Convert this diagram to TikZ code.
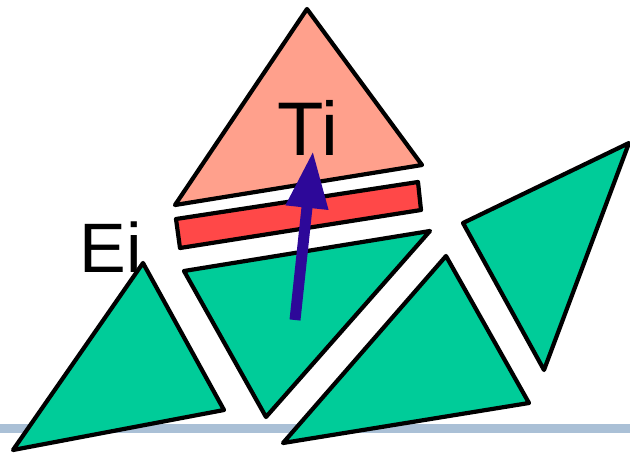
\documentclass[tikz,border=0pt]{standalone}
\usepackage{fontspec}
\setmainfont{Liberation Sans}
\usepackage{tikz}
\usetikzlibrary{arrows.meta, positioning}

\definecolor{meshgreen}{HTML}{00CC99}
\definecolor{salmontri}{HTML}{FFA08C}
\definecolor{redstrip}{HTML}{FF4848}
\definecolor{arrowblue}{HTML}{2D0899}
\definecolor{floorbar}{HTML}{AAC0D6}

\tikzset{
    facet/.style={draw=black, line width=4.2pt, line join=round},
    lbl/.style={inner sep=0pt, anchor=base}
}

\begin{document}
\begin{tikzpicture}[x=1pt, y=-1pt]
    % Khung hình
    \useasboundingbox (0,0) rectangle (630,453);
    % Thanh nền phía dưới
    \fill[floorbar] (0,424) rectangle (630,433);

    % Các tam giác xanh
    \draw[facet, fill=meshgreen] (143,263) -- (13,450) -- (224,410) -- cycle;
    \draw[facet, fill=meshgreen] (184,271) -- (430,231) -- (266,417) -- cycle;
    \draw[facet, fill=meshgreen] (446,256) -- (283,443) -- (529,403) -- cycle;
    \draw[facet, fill=meshgreen] (463,223) -- (629,143) -- (544,370) -- cycle;

    % Dải đỏ và tam giác Ti
    \draw[facet, fill=redstrip] (176,219) -- (418,182) -- (421,210) -- (180,248) -- cycle;
    \draw[facet, fill=salmontri] (307,9) -- (422,165) -- (175,205) -- cycle;

    % Nhãn
    \node[lbl, font=\fontsize{76}{80}\selectfont] (ti) at (308,155) {Ti};
    \node[lbl, font=\fontsize{70}{74}\selectfont] (ei) at (111,272) {Ei};

    % Mũi tên pháp tuyến
    \coordinate (arrtail) at (295,320);
    \coordinate (arrtip) at (313,151);
    \draw[arrowblue, line width=11pt, -{Triangle[length=57pt, width=40pt]}] (arrtail) -- (arrtip);
\end{tikzpicture}
\end{document}
